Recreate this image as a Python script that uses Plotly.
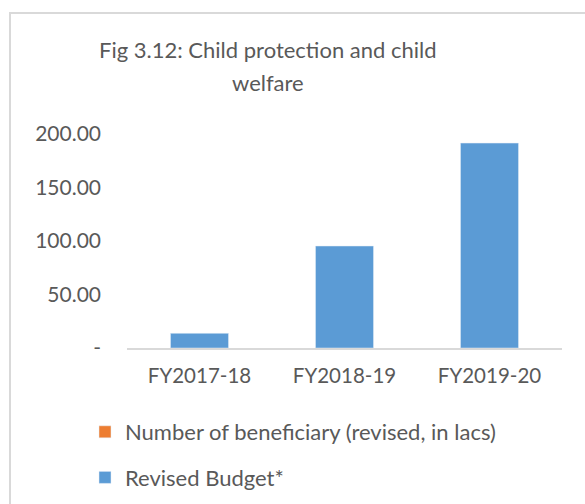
import plotly.graph_objects as go

categories = ["FY2017-18", "FY2018-19", "FY2019-20"]
beneficiary = [0, 0, 0]
revised_budget = [13.7, 95.3, 191.5]
tick_values = [0, 50, 100, 150, 200]
tick_labels = ["-", "50.00", "100.00", "150.00", "200.00"]

FONT = "Lato"
GREY = "#595959"

fig = go.Figure()
fig.add_trace(go.Bar(x=categories, y=beneficiary, name="Number of beneficiary (revised, in lacs)",
                     marker=dict(color="#ED7D31"), width=0.4, legendgroup="a"))
fig.add_trace(go.Bar(x=categories, y=revised_budget, name="Revised Budget*",
                     marker=dict(color="#5B9BD5"), width=0.4, legendgroup="b"))

W, H = 585, 504
L, R, T, B = 127, 23, 134, 156
pw = W - L - R
plot_h = H - T - B

def px(xp):
    return (xp - L) / pw

def py(ypx):
    return (H - B - ypx) / plot_h

fig.update_layout(
    width=W, height=H,
    margin=dict(l=L, r=R, t=T, b=B, autoexpand=False),
    paper_bgcolor="white", plot_bgcolor="white",
    barmode="overlay",
    font=dict(family=FONT, color=GREY, size=20),
    showlegend=True,
    legend=dict(orientation="v", x=px(85), xanchor="left",
                yref="container", y=1 - 411 / H, yanchor="top",
                traceorder="grouped", tracegroupgap=14,
                font=dict(size=22, color=GREY), itemwidth=30),
    xaxis=dict(showgrid=False, showline=True, linecolor="#d9d9d9", linewidth=2,
               ticks="", tickfont=dict(size=20.5, color=GREY), ticklabelstandoff=8,
               fixedrange=True),
    yaxis=dict(range=[0, 200], tickvals=tick_values, ticktext=tick_labels,
               showgrid=False, zeroline=False, showline=False, ticks="",
               tickfont=dict(size=21, color=GREY), ticklabelstandoff=25),
    shapes=[dict(type="rect", xref="paper", yref="paper",
                 x0=px(10), x1=px(700), y0=py(13), y1=py(700),
                 line=dict(color="#d9d9d9", width=2), fillcolor="rgba(0,0,0,0)",
                 layer="below")],
)

fig.add_annotation(text="Fig 3.12: Child protection and child", xref="paper", yref="paper",
                   x=px(268), y=py(50), xanchor="center", yanchor="middle", showarrow=False,
                   font=dict(size=22, color=GREY, family=FONT))
fig.add_annotation(text="welfare", xref="paper", yref="paper",
                   x=px(268), y=py(82), xanchor="center", yanchor="middle", showarrow=False,
                   font=dict(size=22, color=GREY, family=FONT))

fig.write_html("out.html")
